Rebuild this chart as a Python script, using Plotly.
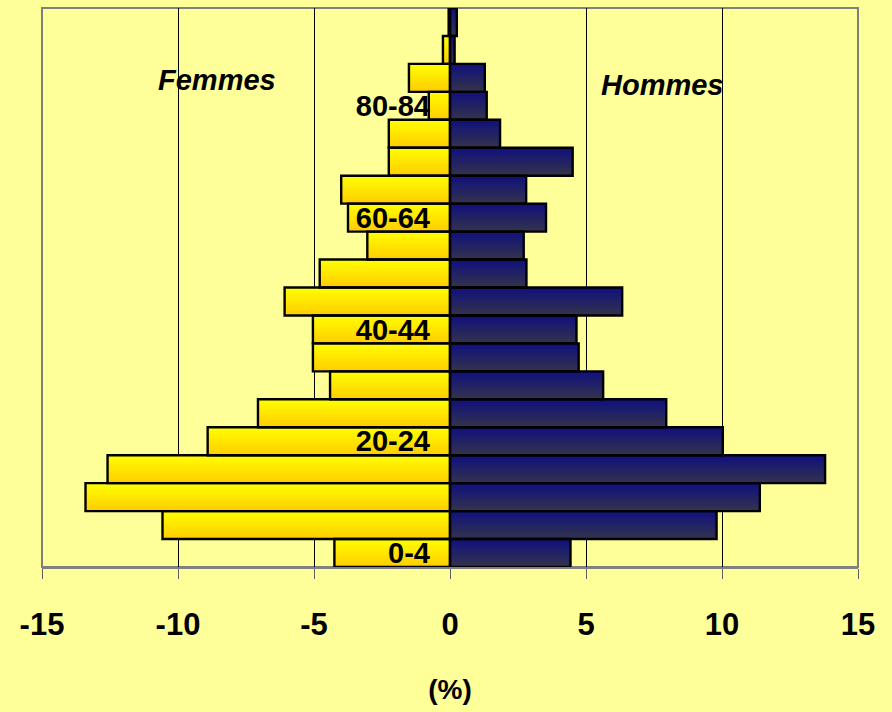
import plotly.graph_objects as go

# Age groups, bottom to top
ages = ["0-4", "5-9", "10-14", "15-19", "20-24", "25-29", "30-34", "35-39",
        "40-44", "45-49", "50-54", "55-59", "60-64", "65-69", "70-74",
        "75-79", "80-84", "85-89", "90-94", "95-99"]

# Share of the population (%)
femmes = [4.25, 10.57, 13.40, 12.59, 8.91, 7.06, 4.41, 5.04, 5.04, 6.08,
          4.79, 3.04, 3.75, 4.00, 2.25, 2.25, 0.78, 1.51, 0.26, 0.05]
hommes = [4.43, 9.80, 11.39, 13.79, 10.03, 7.95, 5.63, 4.73, 4.65, 6.33,
          2.81, 2.71, 3.53, 2.80, 4.51, 1.84, 1.35, 1.28, 0.17, 0.25]

shown_ages = ["0-4", "20-24", "40-44", "60-64", "80-84"]
x_ticks = [-15, -10, -5, 0, 5, 10, 15]

BG = "#FFFF99"
FONT = "Liberation Sans, Arial, sans-serif"


def lerp(c0, c1, t):
    return "rgb({},{},{})".format(*[round(a + (b - a) * t) for a, b in zip(c0, c1)])


fig = go.Figure()

# Vertical colour gradient inside each bar, built from overlapping horizontal strips
N = 14
fem_top, fem_bot = (255, 255, 0), (255, 204, 0)
hom_top, hom_bot = (16, 16, 128), (52, 52, 74)
neg_fem = [-v for v in femmes]
for k in range(N):
    t = (k + 0.5) / N  # 0 = bottom of the bar, 1 = top
    w = 1.0 / N if k == N - 1 else 2.0 / N
    for vals, top, bot in ((neg_fem, fem_top, fem_bot), (hommes, hom_top, hom_bot)):
        fig.add_trace(go.Bar(
            x=vals, y=ages, orientation="h",
            offset=-0.5 + k / N, width=w,
            marker=dict(color=lerp(bot, top, t), line=dict(width=0)),
            showlegend=False, hoverinfo="skip",
        ))

# Black outlines around every bar
for vals in (neg_fem, hommes):
    fig.add_trace(go.Bar(
        x=vals, y=ages, orientation="h", offset=-0.5, width=1.0,
        marker=dict(color="rgba(0,0,0,0)", line=dict(color="black", width=2.4)),
        showlegend=False,
    ))

fig.update_layout(
    width=892, height=712,
    margin=dict(l=42, r=34, t=8, b=145),
    paper_bgcolor=BG, plot_bgcolor=BG,
    barmode="overlay",
    font=dict(family=FONT, color="black"),
    xaxis=dict(
        range=[-15, 15], tickvals=x_ticks, ticktext=[str(v) for v in x_ticks],
        showgrid=True, gridcolor="black", gridwidth=1, zeroline=False,
        showline=True, linecolor="#808080", linewidth=2,
        ticks="outside", ticklen=10, tickcolor="#606060", tickwidth=1,
        ticklabelstandoff=19,
        tickfont=dict(size=31, family=FONT, weight="bold"),
        title=dict(text="(%)", font=dict(size=28, family=FONT, weight="bold"),
                   standoff=38),
    ),
    yaxis=dict(
        type="category", categoryorder="array", categoryarray=ages,
        range=[-0.5, 19.5], anchor="free", position=0.5,
        tickmode="array", tickvals=shown_ages, ticktext=shown_ages,
        showgrid=False, zeroline=False, showline=False, ticks="",
        ticklabelstandoff=20,
        tickfont=dict(size=29, family=FONT, weight="bold"),
    ),
    shapes=[dict(type="rect", xref="paper", yref="paper", x0=0, x1=1, y0=0, y1=1,
                 line=dict(color="#808080", width=2), layer="below")],
    annotations=[
        dict(text="Femmes", xref="paper", yref="paper", x=0.2145, y=0.871,
             showarrow=False, xanchor="center", yanchor="middle",
             font=dict(size=29, family=FONT, weight="bold", style="italic")),
        dict(text="Hommes", xref="paper", yref="paper", x=0.760, y=0.862,
             showarrow=False, xanchor="center", yanchor="middle",
             font=dict(size=29, family=FONT, weight="bold", style="italic")),
    ],
)

fig.write_html("out.html")
